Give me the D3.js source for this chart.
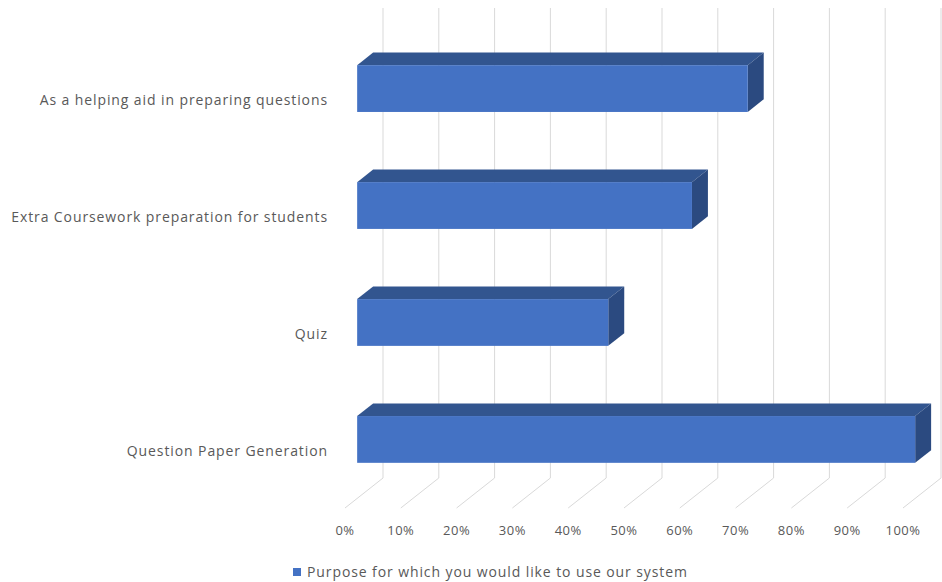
<!DOCTYPE html>
<html>
<head>
<meta charset="utf-8">
<script src="https://cdn.jsdelivr.net/npm/d3@7"></script>
<style>
  body { margin: 0; background: #fff; }
  svg text { font-family: 'Open Sans', 'Liberation Sans', sans-serif; fill: #595959; }
</style>
</head>
<body>
<div id="chart"></div>
<script>
// data (top to bottom)
const categories = [
  'As a helping aid in preparing questions',
  'Extra Coursework preparation for students',
  'Quiz',
  'Question Paper Generation'
];
const values = [0.70, 0.60, 0.45, 1.00];
const tickValues = [0, 0.1, 0.2, 0.3, 0.4, 0.5, 0.6, 0.7, 0.8, 0.9, 1.0];
const seriesName = 'Purpose for which you would like to use our system';

const width = 942;
const height = 582;

// floor front edge and the depth vector of the 3d box
const floorX = 345;
const floorY = 508;
const depth = { dx: 38, dy: -30 };
const barFront = 0.32;  // bar occupies this slice of the floor depth
const barBack = 0.74;

const xScale = d3.scaleLinear().domain([0, 1]).range([floorX, floorX + 558]);
const yScale = d3.scaleBand()
  .domain(categories)
  .range([-5, 533])
  .padding(0.6);

const colors = { front: '#4472c4', top: '#32558f', side: '#2b4a80' };

const svg = d3.select('#chart')
  .append('svg')
    .attr('width', width)
    .attr('height', height);

// back wall gridlines + floor lines
const backX = (v) => xScale(v) + depth.dx;
const backY = floorY + depth.dy;

const grid = svg.append('g').attr('class', 'grid');
grid.selectAll('line.wall')
  .data(tickValues)
  .enter().append('line')
    .attr('x1', (d) => backX(d))
    .attr('x2', (d) => backX(d))
    .attr('y1', 8)
    .attr('y2', backY)
    .attr('stroke', '#d9d9d9')
    .attr('stroke-width', 1);

grid.selectAll('line.floor')
  .data(tickValues)
  .enter().append('line')
    .attr('x1', (d) => backX(d))
    .attr('y1', backY)
    .attr('x2', (d) => xScale(d))
    .attr('y2', floorY)
    .attr('stroke', '#d9d9d9')
    .attr('stroke-width', 1);

// bars: top face, side face, front face
const fx = depth.dx * barFront;
const fy = depth.dy * barFront;
const bx = depth.dx * barBack;
const by = depth.dy * barBack;
const bh = yScale.bandwidth();

const bars = svg.selectAll('g.bar')
  .data(categories.map((c, i) => ({ cat: c, value: values[i] })))
  .enter().append('g')
    .attr('class', 'bar');

bars.append('path')
  .attr('fill', colors.top)
  .attr('d', (d) => {
    const x0 = xScale(0) + fx;
    const x1 = xScale(d.value) + fx;
    const y = yScale(d.cat);
    return `M${x0},${y}L${x0 + bx - fx},${y + by - fy}L${x1 + bx - fx},${y + by - fy}L${x1},${y}Z`;
  });

bars.append('path')
  .attr('fill', colors.side)
  .attr('d', (d) => {
    const x1 = xScale(d.value) + fx;
    const y = yScale(d.cat);
    const ox = bx - fx;
    const oy = by - fy;
    return `M${x1},${y}L${x1 + ox},${y + oy}L${x1 + ox},${y + oy + bh}L${x1},${y + bh}Z`;
  });

bars.append('rect')
  .attr('fill', colors.front)
  .attr('x', xScale(0) + fx)
  .attr('y', (d) => yScale(d.cat))
  .attr('width', (d) => xScale(d.value) - xScale(0))
  .attr('height', bh);

// category labels sit on the front edge of the floor
svg.append('g')
  .selectAll('text')
  .data(categories)
  .enter().append('text')
    .attr('x', 328)
    .attr('y', (d) => yScale(d) + bh / 2 - fy + 2)
    .attr('dy', '0.35em')
    .attr('text-anchor', 'end')
    .style('font-size', '14px')
    .style('letter-spacing', '0.9px')
    .text((d) => d);

// x axis labels
svg.append('g')
  .selectAll('text')
  .data(tickValues)
  .enter().append('text')
    .attr('x', (d) => xScale(d))
    .attr('y', 530)
    .attr('dy', '0.35em')
    .attr('text-anchor', 'middle')
    .style('font-size', '13px')
    .style('letter-spacing', '0.5px')
    .text((d) => d3.format('.0%')(d));

// legend
const legend = svg.append('g').attr('transform', 'translate(293,572)');
legend.append('rect')
  .attr('x', 0)
  .attr('y', -4)
  .attr('width', 8)
  .attr('height', 8)
  .attr('fill', colors.front);
legend.append('text')
  .attr('x', 14)
  .attr('dy', '0.35em')
  .style('font-size', '14px')
  .style('letter-spacing', '0.9px')
  .text(seriesName);
</script>
</body>
</html>
